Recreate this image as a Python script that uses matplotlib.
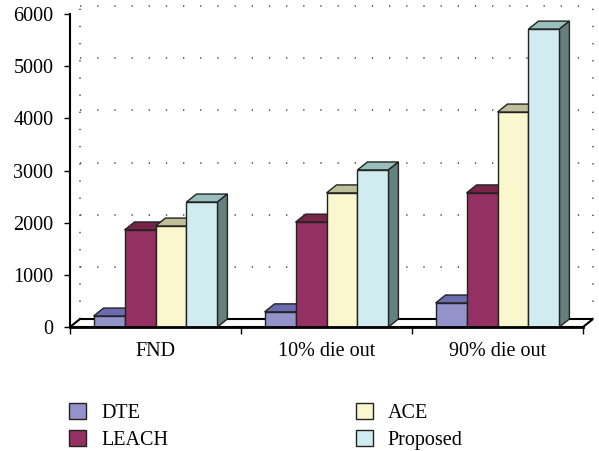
import numpy as np
import matplotlib.pyplot as plt
from matplotlib.patches import Polygon, Patch

# data
categories = ['FND', '10% die out', '90% die out']
series = ['DTE', 'LEACH', 'ACE', 'Proposed']
dte = [210, 290, 460]
leach = [1860, 2010, 2570]
ace = [1935, 2570, 4120]
proposed = [2395, 3010, 5710]
yticks = [0, 1000, 2000, 3000, 4000, 5000, 6000]

values = [dte, leach, ace, proposed]
front = ['#9393C9', '#943162', '#FAF7CE', '#D0ECF0']
top = ['#6B6BB0', '#762448', '#BFBF99', '#99BEBE']
side = ['#5A5A90', '#5E1C3A', '#9A9A78', '#668080']

plt.rcParams['font.family'] = ['Liberation Serif', 'DejaVu Serif']
plt.rcParams['font.size'] = 14.5

fig = plt.figure(figsize=(5.99, 4.51), dpi=100)
ax = fig.add_axes([70/599, 1 - 327/451, 513/599, 313/451])
ax.set_xlim(-0.5, 2.5)
ax.set_ylim(0, 6000)

# depth of the 3d look, in pixels -> data units
px_x = 513 / 3
px_y = 313 / 6000
dx = 10 / px_x
dy = 8 / px_y

x0, x1 = -0.5, 2.5

# floor
floor = Polygon([(x0, 0), (x1, 0), (x1 + dx, dy), (x0 + dx, dy)], closed=True,
                facecolor='white', edgecolor='black', lw=1.5, clip_on=False, zorder=1)
ax.add_patch(floor)

# back wall dotted grid
dots = (0, (0.8, 9.5))
for v in yticks[1:]:
    ax.plot([x0 + dx, x1 + dx], [v + dy, v + dy], color='#555555', lw=1.2,
            ls=dots, clip_on=False, zorder=0.5)
for xx in [x0 + dx, x1 + dx]:
    ax.plot([xx, xx], [dy, 6000 + dy], color='#555555', lw=1.2,
            ls=dots, clip_on=False, zorder=0.5)

# bars
w = 0.181
x = np.arange(len(categories))
for i in range(len(categories)):
    for j in range(len(series)):
        left = x[i] - 2 * w + j * w
        h = values[j][i]
        z = 2 + j
        ax.bar(left, h, width=w, align='edge', color=front[j], edgecolor='#222222',
               lw=1, zorder=z + 0.1)
        ax.add_patch(Polygon([(left, h), (left + w, h), (left + w + dx, h + dy), (left + dx, h + dy)],
                             closed=True, facecolor=top[j], edgecolor='#222222', lw=1,
                             clip_on=False, zorder=z))
        ax.add_patch(Polygon([(left + w, 0), (left + w + dx, dy), (left + w + dx, h + dy), (left + w, h)],
                             closed=True, facecolor=side[j], edgecolor='#222222', lw=1,
                             clip_on=False, zorder=z))

ax.set_yticks(yticks)
ax.set_xticks([x0, 0.5, 1.5, x1], minor=False)
ax.set_xticklabels([])
ax.set_xticks(x, minor=True)
ax.set_xticklabels(categories, minor=True)
ax.tick_params(axis='x', which='major', length=5, width=1, direction='out')
ax.tick_params(axis='x', which='minor', length=0, pad=11)
ax.tick_params(axis='y', length=4, width=1, pad=8)
for s in ['top', 'right']:
    ax.spines[s].set_visible(False)
ax.spines['left'].set_linewidth(1.5)
ax.spines['bottom'].set_linewidth(2)
ax.spines['bottom'].set_zorder(10)
ax.patch.set_alpha(0)

handles = [Patch(facecolor=front[j], edgecolor='#222222', lw=1) for j in range(4)]
fig.legend(handles, series, ncol=2, loc='upper left', bbox_to_anchor=(59/599, 1 - 393/451),
           frameon=False, borderpad=0, handlelength=0.85, handleheight=0.85, handletextpad=0.75,
           columnspacing=9.3, labelspacing=0.35)

fig.savefig('out.png')
